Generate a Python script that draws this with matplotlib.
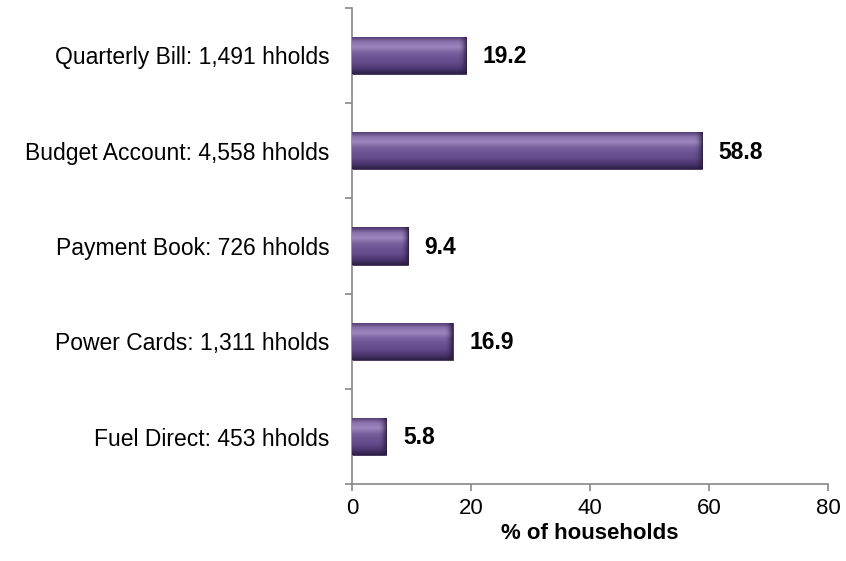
import numpy as np
import matplotlib
matplotlib.use("Agg")
import matplotlib.pyplot as plt
from matplotlib.colors import LinearSegmentedColormap

plt.rcParams['font.family'] = ['Liberation Sans', 'DejaVu Sans']

# data
categories = ["Quarterly Bill: 1,491 hholds", "Budget Account: 4,558 hholds",
              "Payment Book: 726 hholds", "Power Cards: 1,311 hholds",
              "Fuel Direct: 453 hholds"]
values = [19.2, 58.8, 9.4, 16.9, 5.8]
xticks = [0, 20, 40, 60, 80]

fig = plt.figure(figsize=(8.46, 5.61), dpi=100)
ax = fig.add_axes([0.416, 0.137, 0.563, 0.849])

y = np.arange(len(categories))[::-1]
bar_h = 0.39
bars = ax.barh(y, values, height=bar_h, color="#6a5290", edgecolor="#3b2a55", linewidth=0.6, zorder=2)

# vertical shading to imitate the bevelled bars
shade = LinearSegmentedColormap.from_list("bev", ["#4a3568", "#8a72ad", "#9c86bd", "#7a62a0",
                                                  "#6b5392", "#634a8a", "#4f3872", "#2e1f46"])
grad = np.linspace(0, 1, 64).reshape(-1, 1)
# dark right-hand end of every bar
end_cmap = LinearSegmentedColormap.from_list("endc", [(0.16, 0.1, 0.25, 0.0), (0.16, 0.1, 0.25, 0.9)])
hgrad = np.linspace(0, 1, 32).reshape(1, -1) ** 2
for b, yy, v in zip(bars, y, values):
    im = ax.imshow(grad, cmap=shade, aspect="auto", origin="upper",
                   extent=[0, v, yy - bar_h / 2, yy + bar_h / 2], zorder=3)
    im.set_clip_path(b)
    im2 = ax.imshow(hgrad, cmap=end_cmap, aspect="auto",
                    extent=[max(v - 1.4, 0), v, yy - bar_h / 2, yy + bar_h / 2], zorder=4)
    im2.set_clip_path(b)
    ax.annotate(f"{v:.1f}", xy=(v, yy), xytext=(12, -1), textcoords="offset points",
                va="center", ha="left", fontsize=16.5, fontweight="bold")

ax.set_xlim(0, 80)
ax.set_ylim(-0.5, len(categories) - 0.5)
ax.set_xticks(xticks)
ax.set_yticks(y)
ax.set_yticklabels(categories, fontsize=16.5)
ax.set_yticks(np.arange(-0.5, len(categories), 1), minor=True)
ax.tick_params(axis="y", which="major", length=0, pad=16)
ax.tick_params(axis="y", which="minor", length=5, color="#888888", width=1.2)
ax.tick_params(axis="x", length=5, color="#888888", width=1.2, labelsize=16, pad=5)
ax.set_xlabel("% of households", fontsize=16, fontweight="bold", labelpad=3)

for s in ["top", "right"]:
    ax.spines[s].set_visible(False)
for s in ["left", "bottom"]:
    ax.spines[s].set_color("#888888")
    ax.spines[s].set_linewidth(1.2)

fig.savefig("out.png", dpi=100)
